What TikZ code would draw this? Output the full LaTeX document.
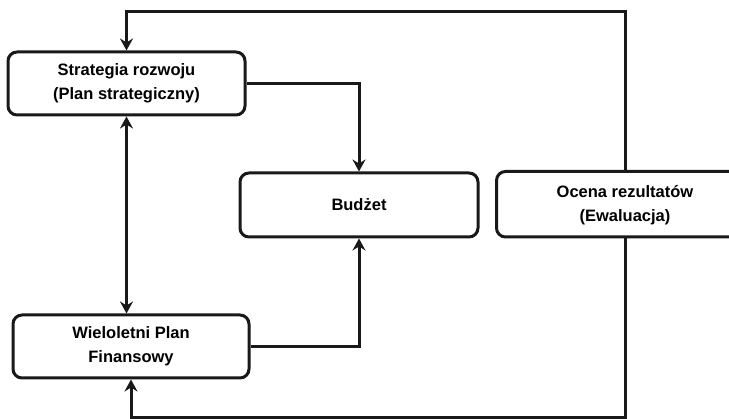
\documentclass[tikz,border=0pt]{standalone}
\usepackage{fontspec}
\setmainfont{Liberation Sans}
\usetikzlibrary{arrows.meta}
\begin{document}
\begin{tikzpicture}[x=1pt,y=-1pt,
  box/.style={draw=black!90, line width=3pt, rounded corners=9pt, align=center,
    font=\fontsize{16.5}{24}\selectfont\bfseries, inner sep=0pt},
  conn/.style={draw=black!90, line width=3pt},
  tip/.style={-{Stealth[length=12pt,width=13pt,inset=4pt]}},
  dtip/.style={{Stealth[length=12pt,width=13pt,inset=4pt]}-{Stealth[length=12pt,width=13pt,inset=4pt]}}]
\useasboundingbox (0,0) rectangle (729,419);
\begin{scope}
\clip (0,0) rectangle (729,419);
\node[box, minimum width=237pt, minimum height=63pt] (s) at (126.5,83.5) {Strategia rozwoju\\(Plan strategiczny)};
\node[box, minimum width=238pt, minimum height=64pt] (b) at (359,205) {Budżet};
\node[box, draw=none, minimum width=254pt, minimum height=64pt] (o) at (625,205) {Ocena rezultatów\\(Ewaluacja)};
\draw[draw=black!90, line width=3pt, rounded corners=9pt] (o.north west) rectangle (800,237);
\node[box, minimum width=236pt, minimum height=63pt] (w) at (131,346.5) {Wieloletni Plan\\Finansowy};
\coordinate (topy) at (0,12);
\coordinate (boty) at (0,418);
\draw[conn, tip] (o.north) -- (o.north |- topy) -| (s.north);
\draw[conn, tip] (o.south) -- (o.south |- boty) -| (w.south);
\draw[conn, tip] (s.east) -| (b.north);
\draw[conn, tip] (w.east) -| (b.south);
\draw[conn, dtip] (s.south) -- (s.south |- w.north);
\end{scope}
\end{tikzpicture}
\end{document}
